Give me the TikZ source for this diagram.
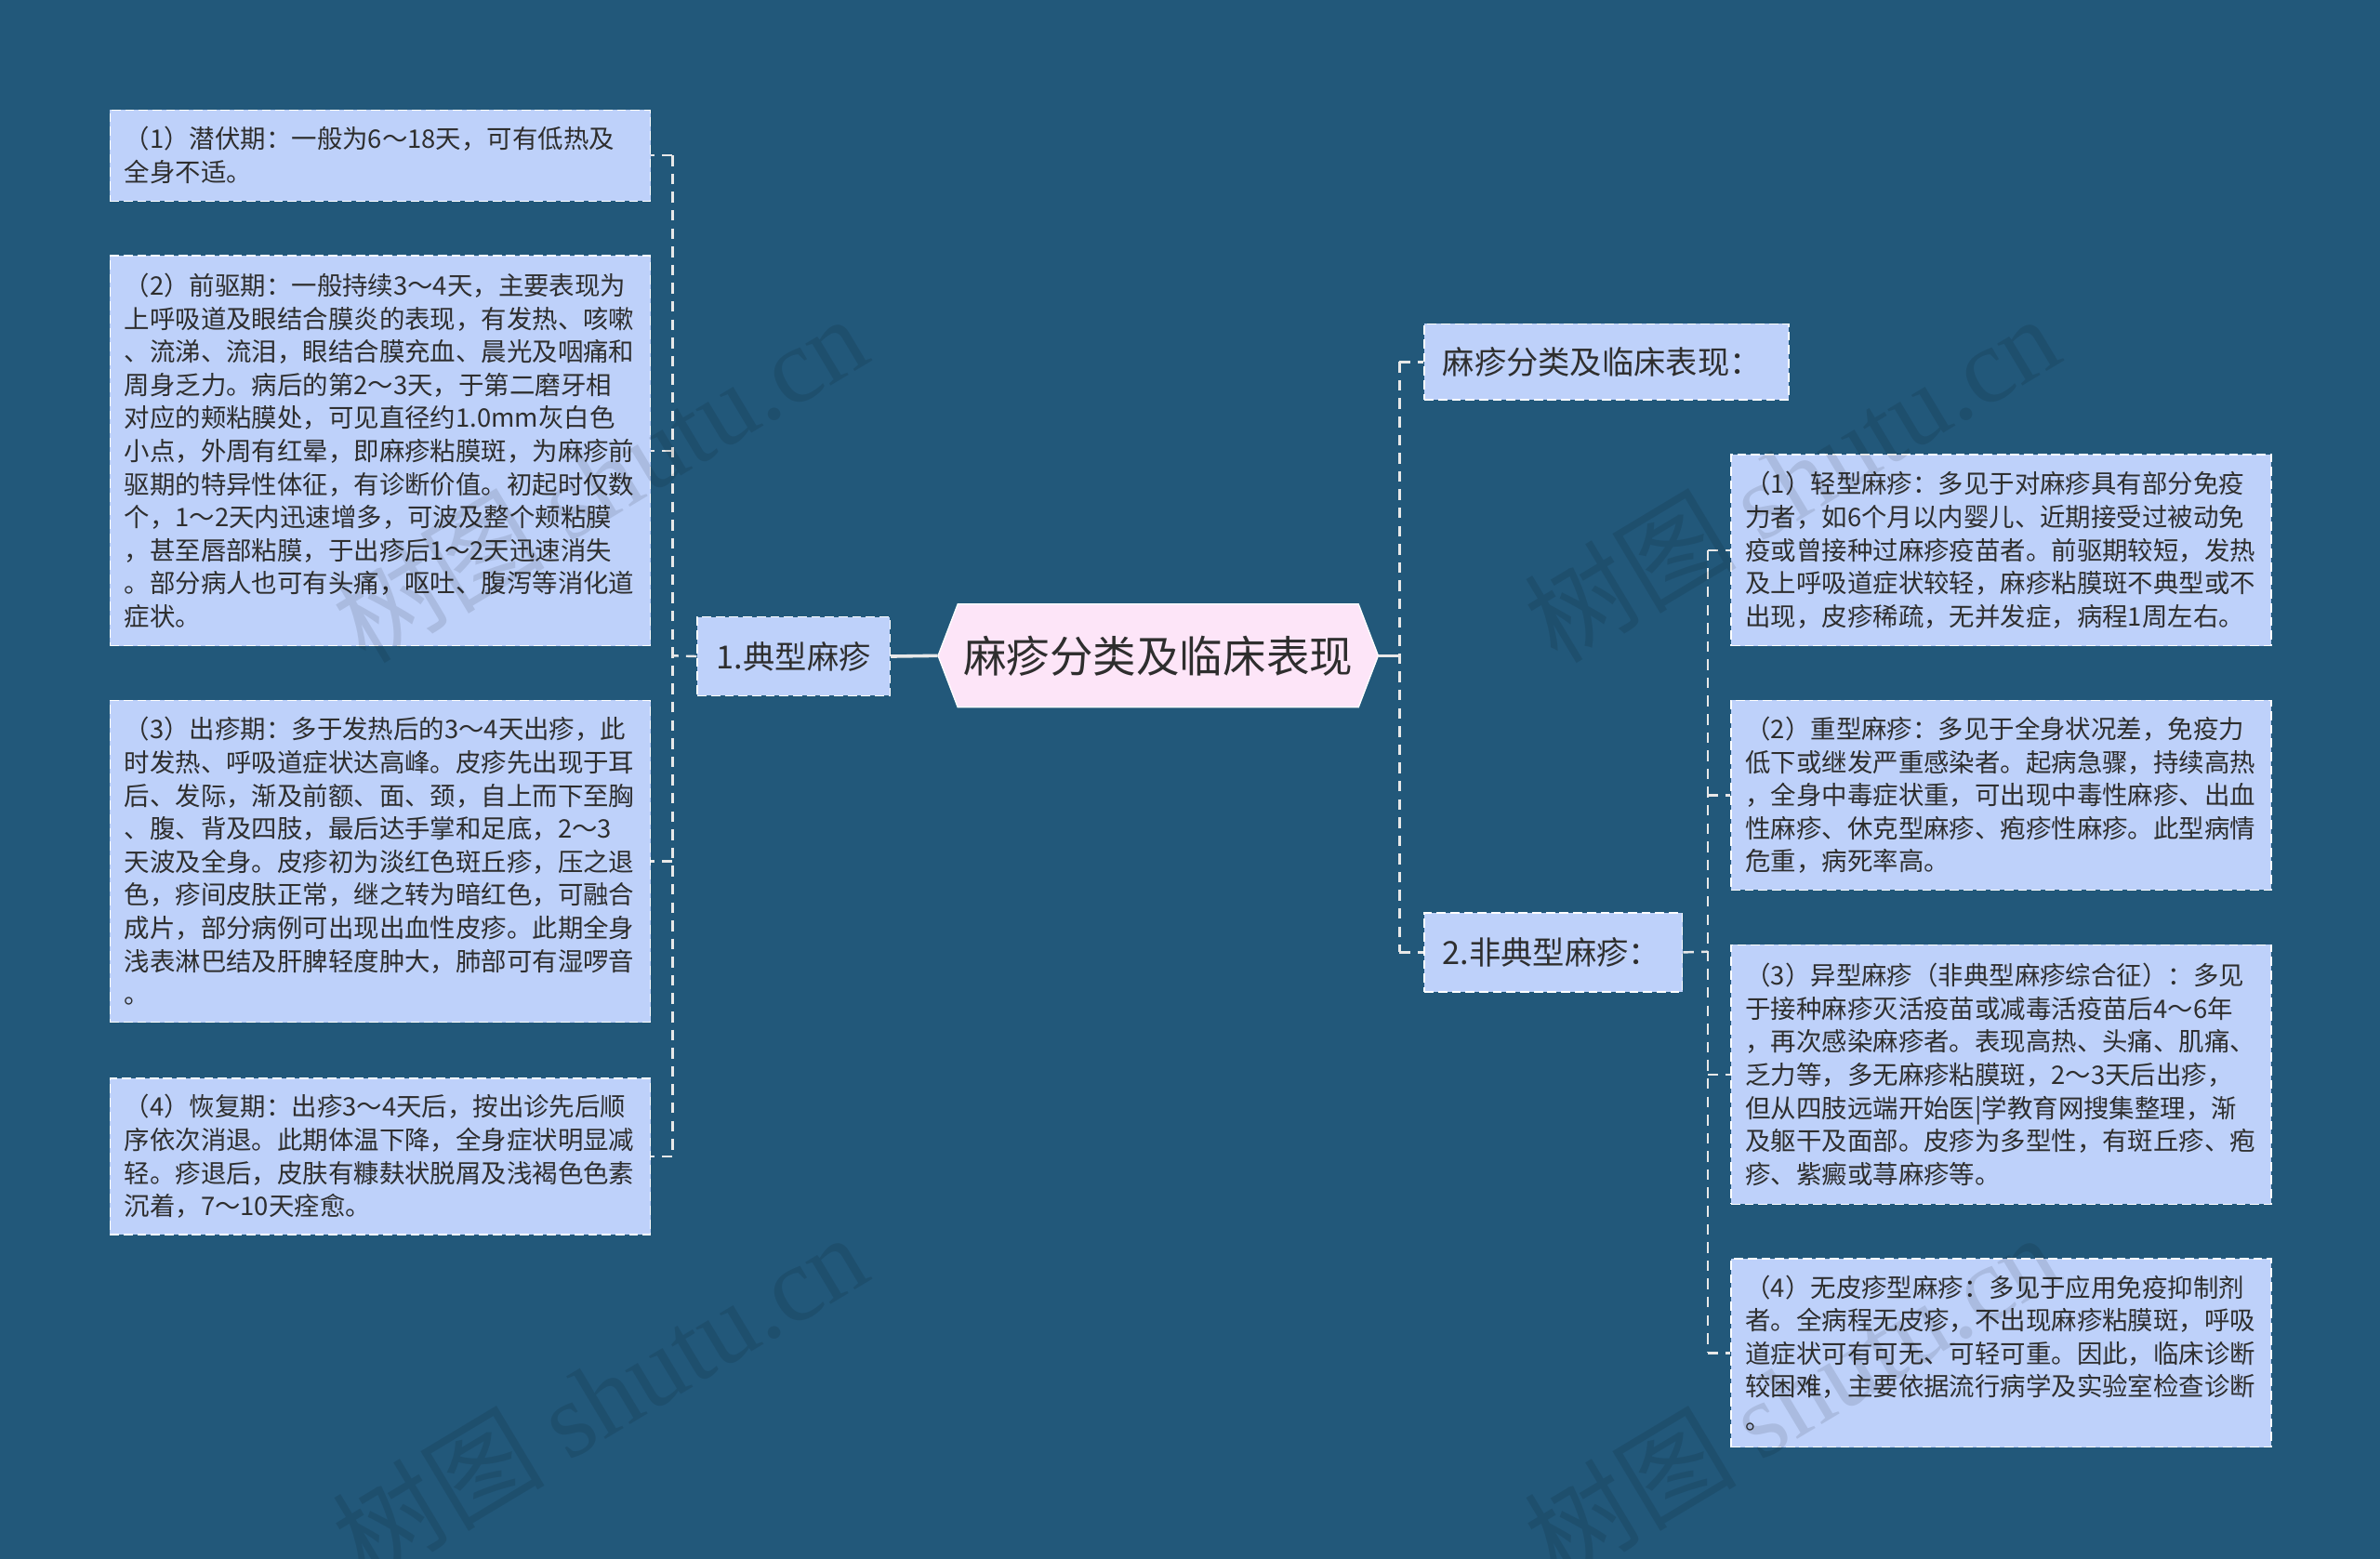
\documentclass[tikz,border=0pt]{standalone}
\usepackage{fontspec}
\setmainfont{Noto Sans CJK SC}
\newfontfamily\wmserif{Liberation Serif}
\definecolor{bgc}{HTML}{22587A}
\definecolor{boxc}{HTML}{BED1FA}
\definecolor{rootc}{HTML}{FDE5F8}
\definecolor{txtc}{HTML}{2E2E2E}
\definecolor{linec}{HTML}{E8E8E8}
\begin{document}
\begin{tikzpicture}[x=1pt,y=-1pt,
  leaf/.style={draw=white, dash pattern=on 6pt off 3pt, line width=0.9pt, fill=boxc,
    text=txtc, anchor=north west, text width=337pt, inner xsep=9.5pt, inner ysep=0pt,
    align=left, font=\fontsize{16.8pt}{21.8pt}\selectfont},
  midbox/.style={draw=white, dash pattern=on 6pt off 3pt, line width=0.9pt, fill=boxc,
    text=txtc, anchor=north west, inner sep=0pt, align=center,
    font=\fontsize{21pt}{25pt}\selectfont},
  rootnode/.style={text=txtc, inner sep=0pt, minimum width=290pt, minimum height=68pt,
    font=\fontsize{28.5pt}{32pt}\selectfont},
  dashc/.style={draw=linec, line width=1.5pt, dash pattern=on 7pt off 5pt},
  solidc/.style={draw=linec, line width=2.2pt},
  wm/.style={text=black, opacity=0.1, font=\fontsize{70pt}{70pt}\selectfont, inner sep=0pt}
]
\useasboundingbox (0,0) rectangle (1568,1027);
\fill[bgc] (0,0) rectangle (1568,1027);

% root hexagon
\filldraw[fill=rootc, draw=white, line width=0.8pt]
  (618,432) -- (631,398) -- (895,398) -- (908,432) -- (895,466) -- (631,466) -- cycle;
\node[rootnode] (root) at (763,432) {麻疹分类及临床表现};

% first-level nodes
\node[midbox, minimum width=127pt, minimum height=52pt] (n1) at (459,406) {1.典型麻疹};
\node[midbox, minimum width=240pt, minimum height=50pt, align=left, inner xsep=12pt, text width=216pt] (R0) at (938,213) {麻疹分类及临床表现：};
\node[midbox, minimum width=170pt, minimum height=52pt, align=left, inner xsep=12pt, text width=146pt] (n2) at (938,601) {2.非典型麻疹：};

% left leaves
\node[leaf, minimum height=60pt] (L1) at (72,72) {（1）潜伏期：一般为6～18天，可有低热及\\全身不适。};
\node[leaf, minimum height=257pt] (L2) at (72,168) {（2）前驱期：一般持续3～4天，主要表现为\\
上呼吸道及眼结合膜炎的表现，有发热、咳嗽\\
、流涕、流泪，眼结合膜充血、晨光及咽痛和\\
周身乏力。病后的第2～3天，于第二磨牙相\\
对应的颊粘膜处，可见直径约1.0mm灰白色\\
小点，外周有红晕，即麻疹粘膜斑，为麻疹前\\
驱期的特异性体征，有诊断价值。初起时仅数\\
个，1～2天内迅速增多，可波及整个颊粘膜\\
，甚至唇部粘膜，于出疹后1～2天迅速消失\\
。部分病人也可有头痛，呕吐、腹泻等消化道\\
症状。};
\node[leaf, minimum height=212pt] (L3) at (72,461) {（3）出疹期：多于发热后的3～4天出疹，此\\
时发热、呼吸道症状达高峰。皮疹先出现于耳\\
后、发际，渐及前额、面、颈，自上而下至胸\\
、腹、背及四肢，最后达手掌和足底，2～3\\
天波及全身。皮疹初为淡红色斑丘疹，压之退\\
色，疹间皮肤正常，继之转为暗红色，可融合\\
成片，部分病例可出现出血性皮疹。此期全身\\
浅表淋巴结及肝脾轻度肿大，肺部可有湿啰音\\
。};
\node[leaf, minimum height=103pt] (L4) at (72,710) {（4）恢复期：出疹3～4天后，按出诊先后顺\\
序依次消退。此期体温下降，全身症状明显减\\
轻。疹退后，皮肤有糠麸状脱屑及浅褐色色素\\
沉着，7～10天痊愈。};

% right leaves
\node[leaf, minimum height=126pt] (R1) at (1140,299) {（1）轻型麻疹：多见于对麻疹具有部分免疫\\
力者，如6个月以内婴儿、近期接受过被动免\\
疫或曾接种过麻疹疫苗者。前驱期较短，发热\\
及上呼吸道症状较轻，麻疹粘膜斑不典型或不\\
出现，皮疹稀疏，无并发症，病程1周左右。};
\node[leaf, minimum height=125pt] (R2) at (1140,461) {（2）重型麻疹：多见于全身状况差，免疫力\\
低下或继发严重感染者。起病急骤，持续高热\\
，全身中毒症状重，可出现中毒性麻疹、出血\\
性麻疹、休克型麻疹、疱疹性麻疹。此型病情\\
危重，病死率高。};
\node[leaf, minimum height=171pt] (R3) at (1140,622) {（3）异型麻疹（非典型麻疹综合征）：多见\\
于接种麻疹灭活疫苗或减毒活疫苗后4～6年\\
，再次感染麻疹者。表现高热、头痛、肌痛、\\
乏力等，多无麻疹粘膜斑，2～3天后出疹，\\
但从四肢远端开始医|学教育网搜集整理，渐\\
及躯干及面部。皮疹为多型性，有斑丘疹、疱\\
疹、紫癜或荨麻疹等。};
\node[leaf, minimum height=124pt] (R4) at (1140,829) {（4）无皮疹型麻疹：多见于应用免疫抑制剂\\
者。全病程无皮疹，不出现麻疹粘膜斑，呼吸\\
道症状可有可无、可轻可重。因此，临床诊断\\
较困难，主要依据流行病学及实验室检查诊断\\
。};

% junctions
\coordinate (jl) at (443,432);
\coordinate (jr) at (922,432);
\coordinate (jn) at (1125,627);

% connectors left
\draw[solidc] (root.west) -- (n1.east);
\draw[dashc] (n1.west) -- (jl);
\draw[dashc] (jl |- L1.east) -- (jl |- L4.east);
\foreach \b in {L1,L2,L3,L4} \draw[dashc] (jl |- \b.east) -- (\b.east);

% connectors right
\draw[solidc] (root.east) -- (jr);
\draw[dashc] (jr |- R0.west) -- (jr |- n2.west);
\draw[dashc] (jr |- R0.west) -- (R0.west);
\draw[dashc] (jr |- n2.west) -- (n2.west);
\draw[dashc] (n2.east) -- (jn);
\draw[dashc] (jn |- R1.west) -- (jn |- R4.west);
\foreach \b in {R1,R2,R3,R4} \draw[dashc] (jn |- \b.west) -- (\b.west);

% watermarks
\node[wm, rotate=31] (w1) at (395,315) {树图 {\wmserif shutu.cn}};
\node[wm, rotate=31] (w2) at (1180,315) {树图 {\wmserif shutu.cn}};
\node[wm, rotate=31] (w3) at (395,920) {树图 {\wmserif shutu.cn}};
\node[wm, rotate=31] (w4) at (1180,920) {树图 {\wmserif shutu.cn}};
\end{tikzpicture}
\end{document}
